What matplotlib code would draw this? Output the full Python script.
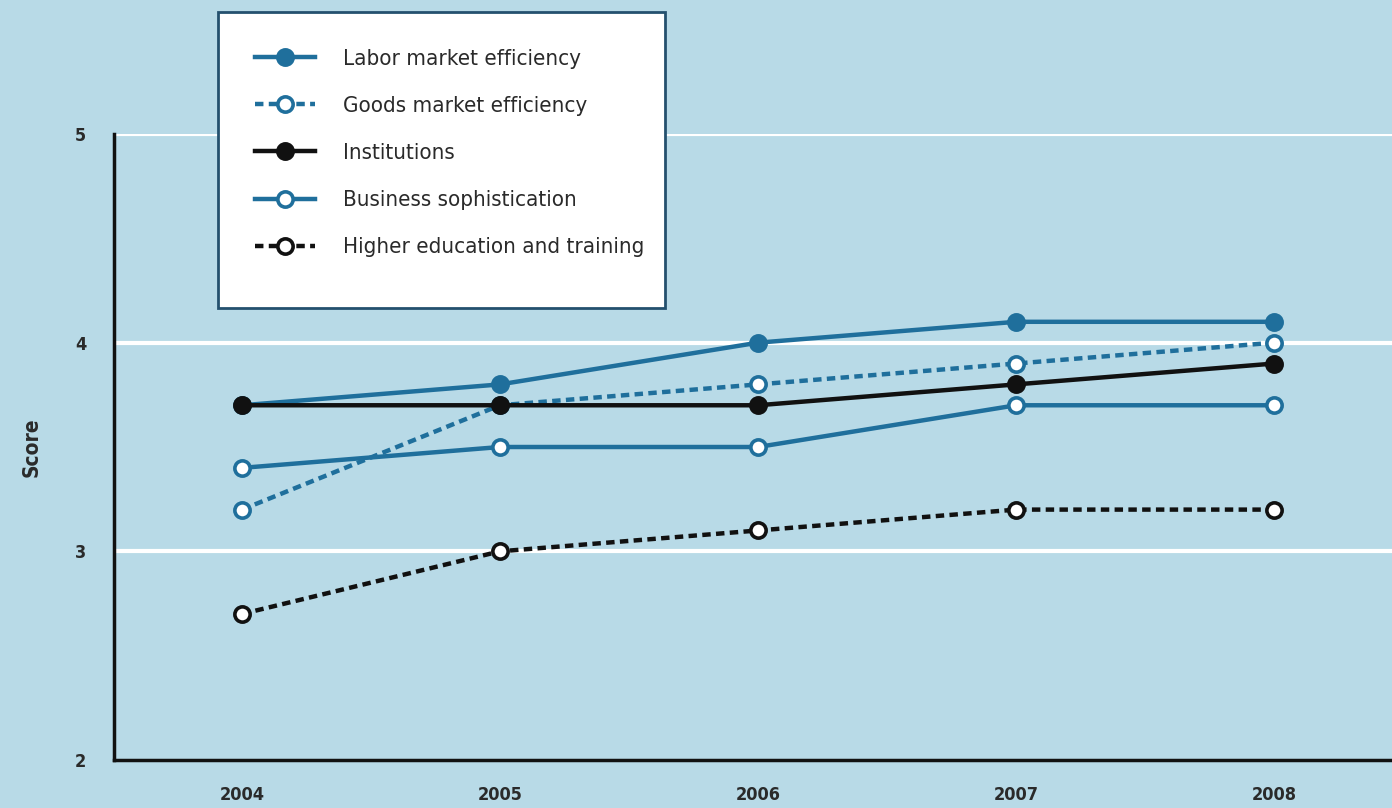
import matplotlib.pyplot as plt
from matplotlib.lines import Line2D
from matplotlib.patches import Rectangle

# Datos
years = [2004, 2005, 2006, 2007, 2008]
labor = [3.7, 3.8, 4.0, 4.1, 4.1]
goods = [3.2, 3.7, 3.8, 3.9, 4.0]
institutions = [3.7, 3.7, 3.7, 3.8, 3.9]
business = [3.4, 3.5, 3.5, 3.7, 3.7]
higher_ed = [2.7, 3.0, 3.1, 3.2, 3.2]

labels = ["Labor market efficiency", "Goods market efficiency", "Institutions",
          "Business sophistication", "Higher education and training"]

bg = "#b8dae7"
blue = "#1f6f9c"
black = "#111111"

plt.rcParams['font.family'] = ['DejaVu Sans']
plt.rcParams['font.stretch'] = 'condensed'

W, H = 1392, 808
fig = plt.figure(figsize=(W / 100, H / 100), dpi=100, facecolor=bg)
ax = fig.add_axes([114 / W, 1 - 760 / H, 1 - 114 / W, (760 - 134) / H])
ax.set_facecolor(bg)

# Estilo de cada serie: (datos, color, relleno, discontinua)
series = [
    (labor, blue, blue, False),
    (goods, blue, "white", True),
    (institutions, black, black, False),
    (business, blue, "white", False),
    (higher_ed, black, "white", True),
]

handles = []
for (vals, col, face, dashed), lab in zip(series, labels):
    kw = dict(color=col, linewidth=3.2, marker="o", markersize=11,
              markerfacecolor=face, markeredgecolor=col, markeredgewidth=2.6)
    line, = ax.plot(years, vals, zorder=3, **kw)
    if dashed:
        line.set_dashes((1.9, 1.2))
    h = Line2D([0], [0], **kw)
    if dashed:
        h.set_dashes((1.9, 1.2))
    handles.append(h)

ax.set_xlim(2003.504, 2008.457)
ax.set_ylim(2, 5)
ax.set_xticks(years)
ax.set_yticks([2, 3, 4, 5])
ax.tick_params(length=0, labelsize=13, colors="#2a2a2a")
ax.tick_params(axis="y", pad=20)
ax.tick_params(axis="x", pad=19)
for t in ax.get_xticklabels() + ax.get_yticklabels():
    t.set_fontweight("bold")

for v in [3, 4, 5]:
    ax.axhline(v, color="white", linewidth=3, zorder=1)

for s in ["top", "right"]:
    ax.spines[s].set_visible(False)
for s in ["left", "bottom"]:
    ax.spines[s].set_linewidth(2.5)
    ax.spines[s].set_color(black)

ax.set_ylabel("Score", fontsize=15, fontweight="bold", color="#2a2a2a", labelpad=24)

# Caja blanca de la leyenda
fig.patches.append(Rectangle((218 / W, 1 - 308 / H), 447 / W, 296 / H,
                             transform=fig.transFigure, facecolor="white",
                             edgecolor="#24506e", linewidth=2, zorder=4))

leg = fig.legend(handles, labels, loc="upper left",
                 bbox_to_anchor=(255 / W, 1 - 49 / H),
                 fontsize=16, frameon=False,
                 handlelength=2.7, handletextpad=1.26, labelspacing=1.22,
                 borderpad=0, borderaxespad=0)
leg.set_zorder(5)
for t in leg.get_texts():
    t.set_color("#2a2a2a")

fig.savefig("out.png", dpi=100, facecolor=bg)
